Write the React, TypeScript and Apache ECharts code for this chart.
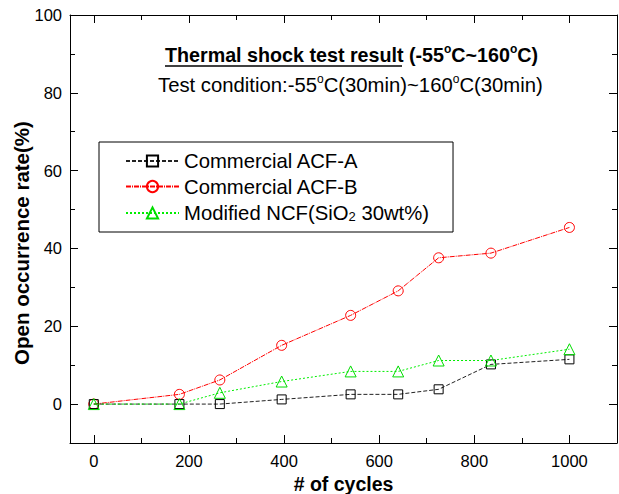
import React, { useEffect, useRef } from "react";
import * as echarts from "echarts";

const cycles = [0, 180, 265, 395, 540, 640, 725, 835, 1000];
const acfA = [0, 0, 0, 1.2, 2.5, 2.5, 3.8, 10.2, 11.5];
const acfB = [0, 2.5, 6.2, 15.1, 22.8, 29.1, 37.6, 38.8, 45.4];
const ncf = [0, 0, 2.9, 5.8, 8.4, 8.4, 11.2, 11.2, 14.1];

const seriesNames = ["Commercial ACF-A", "Commercial ACF-B", "Modified NCF(SiO2 30wt%)"];
const xMajor = [0, 200, 400, 600, 800, 1000];
const xMinor = [100, 300, 500, 700, 900];
const yMajor = [0, 20, 40, 60, 80, 100];
const yMinor = [10, 30, 50, 70, 90];

const FONT = "Liberation Sans, Arial, sans-serif";

function pairs(ys: number[]) {
  return cycles.map((x, i) => [x, ys[i]]);
}

function xAxisDef(pos: "bottom" | "top", ticks: number[], len: number, main: boolean) {
  return {
    type: "value",
    position: pos,
    min: -50,
    max: 1100,
    splitLine: { show: false },
    axisLine: { show: main, onZero: false, lineStyle: { color: "#000", width: 1 } },
    axisTick: { show: true, inside: true, length: len, customValues: ticks, lineStyle: { color: "#000", width: 1 } },
    axisLabel: main && pos === "bottom"
      ? { show: true, customValues: ticks, color: "#000", fontSize: 16.5, fontFamily: FONT, margin: 9, formatter: (v: number) => String(v) }
      : { show: false },
    name: main && pos === "bottom" ? "# of cycles" : "",
    nameLocation: "middle",
    nameGap: 29,
    nameTextStyle: { fontSize: 19.5, fontWeight: "bold", color: "#000", fontFamily: FONT },
  };
}

function yAxisDef(pos: "left" | "right", ticks: number[], len: number, main: boolean) {
  return {
    type: "value",
    position: pos,
    min: -10,
    max: 100,
    splitLine: { show: false },
    axisLine: { show: main, onZero: false, lineStyle: { color: "#000", width: 1 } },
    axisTick: { show: true, inside: true, length: len, customValues: ticks, lineStyle: { color: "#000", width: 1 } },
    axisLabel: main && pos === "left"
      ? { show: true, customValues: ticks, color: "#000", fontSize: 16.5, fontFamily: FONT, margin: 8, formatter: (v: number) => String(v) }
      : { show: false },
  };
}

export default function App() {
  const ref = useRef<HTMLDivElement>(null);
  useEffect(() => {
    if (!ref.current) return;
    const chart = echarts.init(ref.current, undefined, { renderer: "svg" });
    const sup = { fontSize: 12, verticalAlign: "top", lineHeight: 24, fontFamily: FONT };
    chart.setOption({
      animation: false,
      backgroundColor: "#fff",
      grid: { left: 70, right: 2, top: 15, bottom: 51, containLabel: false, outerBoundsMode: "none" },
      xAxis: [
        xAxisDef("bottom", xMajor, 8, true),
        xAxisDef("bottom", xMinor, 5, false),
        xAxisDef("top", xMajor, 8, true),
        xAxisDef("top", xMinor, 5, false),
      ],
      yAxis: [
        yAxisDef("left", yMajor, 8, true),
        yAxisDef("left", yMinor, 5, false),
        yAxisDef("right", yMajor, 8, true),
        yAxisDef("right", yMinor, 5, false),
      ],
      legend: {
        orient: "vertical",
        left: 99,
        top: 142,
        padding: [9, 24, 9, 26],
        itemGap: 5.5,
        itemWidth: 53,
        itemHeight: 14,
        borderColor: "#000",
        borderWidth: 1,
        backgroundColor: "#fff",
        data: seriesNames,
        formatter: (name: string) => (name.indexOf("SiO2") >= 0 ? "Modified NCF(SiO{sub|2} 30wt%)" : name),
        textStyle: {
          fontSize: 20.3,
          lineHeight: 20,
          color: "#000",
          fontFamily: FONT,
          rich: {
            sub: { fontSize: 13, lineHeight: 16, verticalAlign: "bottom", padding: [8, 0, 0, 0], fontFamily: FONT, color: "#000" },
          },
        },
      },
      series: [
        {
          name: seriesNames[1],
          type: "line",
          data: pairs(acfB),
          z: 2,
          symbol: "circle",
          symbolSize: 10,
          lineStyle: { color: "#ff0000", width: 1, type: [5, 1, 1, 1] },
          itemStyle: { color: "transparent", borderColor: "#ff0000", borderWidth: 1 },
        },
        {
          name: seriesNames[0],
          type: "line",
          data: pairs(acfA),
          z: 3,
          symbol: "rect",
          symbolSize: 9,
          lineStyle: { color: "#222", width: 1, type: [4, 2] },
          itemStyle: { color: "transparent", borderColor: "#000", borderWidth: 1 },
        },
        {
          name: seriesNames[2],
          type: "line",
          data: pairs(ncf),
          z: 4,
          symbol: "triangle",
          symbolSize: 11,
          lineStyle: { color: "#00ee00", width: 1, type: [2, 2] },
          itemStyle: { color: "transparent", borderColor: "#00dd00", borderWidth: 1 },
        },
      ],
      graphic: [
        {
          type: "text",
          x: 21,
          y: 243,
          rotation: Math.PI / 2,
          style: {
            text: "Open occurrence rate(%)",
            fontSize: 20.5,
            fontWeight: "bold",
            fontFamily: FONT,
            fill: "#000",
            align: "center",
            verticalAlign: "middle",
          },
        },
        {
          type: "text",
          left: 165,
          top: 43,
          style: {
            text: "{b|Thermal shock test result (-55}{s|o}{b|C~160}{s|o}{b|C)}",
            rich: {
              b: { fontSize: 19.7, fontWeight: "bold", fontFamily: FONT, color: "#000", lineHeight: 24 },
              s: { ...sup, fontWeight: "bold", color: "#000" },
            },
          },
        },
        {
          type: "line",
          shape: { x1: 165, y1: 66, x2: 402, y2: 66 },
          style: { stroke: "#000", lineWidth: 1.5 },
        },
        {
          type: "text",
          left: 158,
          top: 73,
          style: {
            text: "{n|Test condition:-55}{s|o}{n|C(30min)~160}{s|o}{n|C(30min)}",
            rich: {
              n: { fontSize: 20.3, fontFamily: FONT, color: "#000", lineHeight: 24 },
              s: { ...sup, color: "#000" },
            },
          },
        },
      ],
    });
    return () => chart.dispose();
  }, []);
  return <div ref={ref} style={{ width: 619, height: 494, position: "absolute", left: 0, top: 0 }} />;
}
